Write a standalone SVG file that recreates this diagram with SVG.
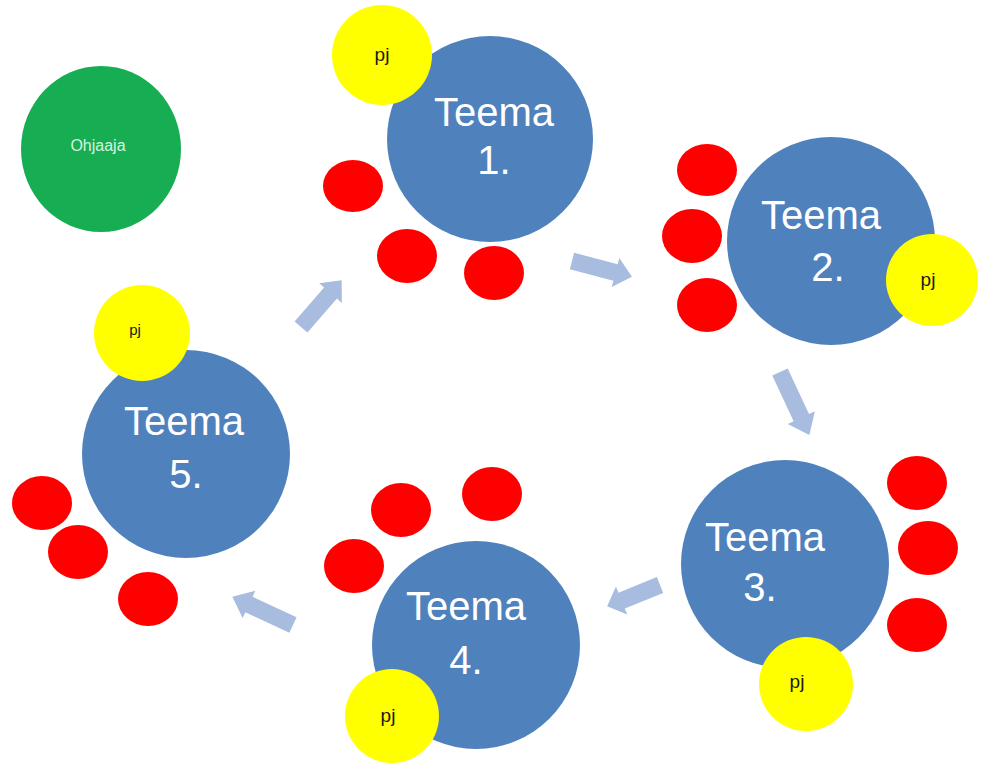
<svg xmlns="http://www.w3.org/2000/svg" width="981" height="769" viewBox="0 0 981 769">
<style>
.teema{fill:#4f81bd}
.pj{fill:#ffff00}
.red{fill:#ff0000}
.tt{fill:#ffffff;font-family:"Liberation Sans",Arial,sans-serif;font-size:40px;text-anchor:middle}
.pt{fill:#1a1a1a;font-family:"Liberation Sans",Arial,sans-serif;font-size:19px;text-anchor:middle}
.arr{fill:#a7bcdf}
</style>
<defs>
<path id="blk" d="M0,-8.5 L45,-8.5 L45,-15 L62,0 L45,15 L45,8.5 L0,8.5 Z"/>
</defs>
<rect width="981" height="769" fill="#ffffff"/>
<g id="ohjaaja">
<ellipse cx="101" cy="149" rx="80" ry="83" fill="#17ad52"/>
<text x="98" y="151" font-family="'Liberation Sans',Arial,sans-serif" font-size="16" fill="#d9f2e0" text-anchor="middle">Ohjaaja</text>
</g>
<g id="connectors" class="arr">
<use href="#blk" transform="translate(572,261) rotate(14.7)"/>
<use href="#blk" transform="translate(301,327) rotate(-49)"/>
<use href="#blk" transform="translate(780,372) rotate(65) scale(1.12,1)"/>
<use href="#blk" transform="translate(660,585) rotate(158) scale(0.92,1)"/>
<use href="#blk" transform="translate(293,625) rotate(205) scale(1.08,1)"/>
</g>
<g id="teema1">
<ellipse class="red" cx="353" cy="186" rx="30" ry="26"/>
<ellipse class="red" cx="407" cy="256" rx="30" ry="27"/>
<ellipse class="red" cx="494" cy="273" rx="30" ry="27"/>
<circle class="teema" cx="490" cy="139" r="103"/>
<text class="tt" x="494" y="126">Teema</text>
<text class="tt" x="494" y="174">1.</text>
<circle class="pj" cx="382" cy="55" r="50"/>
<text class="pt" x="382" y="61">pj</text>
</g>
<g id="teema2">
<ellipse class="red" cx="707" cy="170" rx="30" ry="26"/>
<ellipse class="red" cx="692" cy="236" rx="30" ry="27"/>
<ellipse class="red" cx="707" cy="305" rx="30" ry="27"/>
<circle class="teema" cx="831" cy="241" r="104"/>
<text class="tt" x="821" y="229">Teema</text>
<text class="tt" x="828" y="281">2.</text>
<circle class="pj" cx="932" cy="280" r="46"/>
<text class="pt" x="928" y="286">pj</text>
</g>
<g id="teema3">
<ellipse class="red" cx="917" cy="483" rx="30" ry="27"/>
<ellipse class="red" cx="928" cy="548" rx="30" ry="27"/>
<ellipse class="red" cx="917" cy="625" rx="30" ry="27"/>
<circle class="teema" cx="785" cy="564" r="104"/>
<text class="tt" x="765" y="551">Teema</text>
<text class="tt" x="760" y="601">3.</text>
<circle class="pj" cx="806" cy="684" r="47"/>
<text class="pt" x="797" y="688">pj</text>
</g>
<g id="teema4">
<ellipse class="red" cx="401" cy="510" rx="30" ry="27"/>
<ellipse class="red" cx="492" cy="494" rx="30" ry="27"/>
<ellipse class="red" cx="354" cy="566" rx="30" ry="27"/>
<circle class="teema" cx="476" cy="645" r="104"/>
<text class="tt" x="466" y="620">Teema</text>
<text class="tt" x="466" y="674">4.</text>
<circle class="pj" cx="392" cy="716" r="47"/>
<text class="pt" x="388" y="722">pj</text>
</g>
<g id="teema5">
<ellipse class="red" cx="42" cy="503" rx="30" ry="27"/>
<ellipse class="red" cx="78" cy="552" rx="30" ry="27"/>
<ellipse class="red" cx="148" cy="599" rx="30" ry="27"/>
<circle class="teema" cx="186" cy="454" r="104"/>
<text class="tt" x="184" y="435">Teema</text>
<text class="tt" x="186" y="488">5.</text>
<circle class="pj" cx="142" cy="333" r="48"/>
<text class="pt" x="135" y="335" style="font-size:15px">pj</text>
</g>
</svg>
